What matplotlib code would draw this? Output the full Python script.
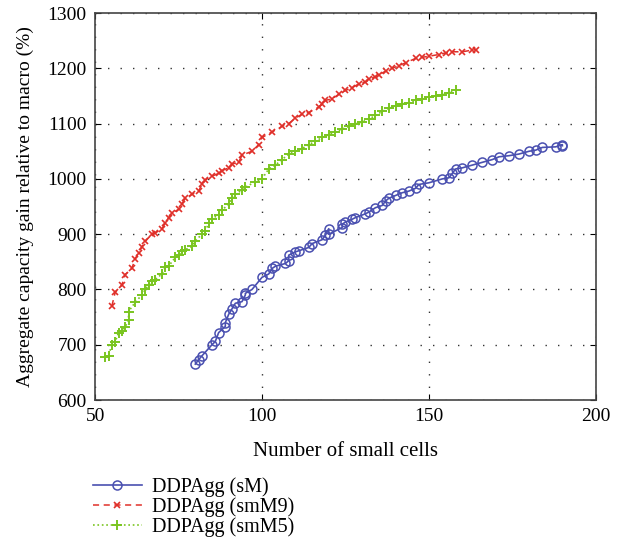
import numpy as np
import matplotlib
matplotlib.use("Agg")
import matplotlib.pyplot as plt

plt.rcParams['font.family'] = ['Liberation Serif', 'DejaVu Serif']

# DDPAgg (sM)
sm_x = [80, 81, 82, 85, 86, 87, 89, 89, 90, 91, 92, 94, 95, 95, 97, 100, 102, 103, 104,
        107, 108, 108, 110, 111, 114, 115, 118, 119, 120, 120, 124, 124, 125, 127, 128,
        131, 132, 134, 136, 137, 138, 140, 142, 144, 146, 147, 150, 154, 156, 157, 158,
        160, 163, 166, 169, 171, 174, 177, 180, 182, 184, 188, 190, 190]
sm_y = [665, 673, 680, 700, 706, 722, 733, 740, 755, 765, 775, 778, 790, 793, 800, 822,
        828, 838, 842, 847, 852, 862, 868, 870, 876, 883, 890, 898, 910, 900, 912, 918,
        922, 927, 930, 937, 940, 948, 952, 960, 965, 970, 975, 978, 983, 990, 993, 1000,
        1002, 1010, 1018, 1020, 1025, 1030, 1035, 1040, 1042, 1045, 1050, 1052, 1057,
        1058, 1062, 1060]

# DDPAgg (smM9)
smm9_x = [55, 56, 58, 59, 61, 62, 63, 64, 65, 67, 68, 70, 71, 72, 73, 75, 76, 77, 79, 81,
          82, 83, 85, 87, 88, 90, 91, 93, 94, 97, 99, 100, 103, 106, 108, 110, 112, 114,
          117, 118, 119, 121, 123, 125, 127, 129, 131, 132, 134, 135, 137, 139, 141, 143,
          146, 148, 150, 153, 155, 157, 160, 163, 164]
smm9_y = [770, 795, 808, 827, 838, 856, 866, 877, 887, 900, 902, 910, 920, 930, 938, 945,
          955, 965, 972, 978, 990, 998, 1005, 1010, 1015, 1020, 1027, 1030, 1043, 1050,
          1062, 1075, 1085, 1095, 1100, 1110, 1117, 1120, 1130, 1135, 1142, 1145, 1153,
          1160, 1165, 1172, 1175, 1180, 1185, 1188, 1195, 1200, 1205, 1210, 1218, 1220,
          1222, 1225, 1228, 1230, 1230, 1233, 1234]

# DDPAgg (smM5)
smm5_x = [53, 54, 55, 56, 57, 58, 59, 60, 60, 62, 64, 65, 66, 67, 68, 70, 71, 72, 74, 75,
          76, 77, 79, 80, 82, 83, 84, 85, 87, 88, 90, 91, 92, 94, 95, 98, 100, 102, 104,
          106, 108, 110, 112, 114, 116, 118, 120, 122, 124, 126, 128, 130, 132, 134, 136,
          138, 140, 142, 144, 146, 148, 150, 152, 154, 156, 158]
smm5_y = [678, 680, 700, 705, 722, 725, 732, 745, 760, 777, 790, 800, 808, 815, 818, 828,
          840, 842, 858, 862, 870, 872, 878, 888, 900, 905, 920, 928, 935, 943, 955, 965,
          972, 980, 985, 995, 1000, 1018, 1025, 1035, 1045, 1050, 1055, 1062, 1068, 1075,
          1080, 1085, 1090, 1095, 1100, 1103, 1108, 1115, 1122, 1128, 1132, 1136, 1138,
          1142, 1145, 1148, 1150, 1152, 1156, 1160]

fig = plt.figure(figsize=(6.18, 5.45), dpi=100)
ax = fig.add_axes([0.154, 0.266, 0.81, 0.71])

ax.plot(sm_x, sm_y, '-', color='#4a50b0', lw=1.2, marker='o', ms=6.5,
        mfc='none', mec='#4a50b0', mew=1.1, label='DDPAgg (sM)')
ax.plot(smm9_x, smm9_y, '--', color='#e0302a', lw=1.1, marker='x', ms=4.5,
        mew=1.2, label='DDPAgg (smM9)', dashes=(4, 3))
ax.plot(smm5_x, smm5_y, ':', color='#7ac520', lw=1.2, marker='+', ms=7,
        mew=1.4, label='DDPAgg (smM5)')

ax.set_xlim(50, 200)
ax.set_ylim(600, 1300)
ax.set_xticks([50, 100, 150, 200])
ax.set_yticks(np.arange(600, 1301, 100))
ax.grid(True, color='#333333', linestyle=(0, (1, 8)), lw=1.0)
ax.tick_params(direction='in', top=True, right=True, labelsize=14, length=4, pad=6)
ax.set_xlabel('Number of small cells', fontsize=15, labelpad=12)
ax.set_ylabel('Aggregate capacity gain relative to macro (%)', fontsize=14, labelpad=10)
for s in ax.spines.values():
    s.set_color('#444444')
    s.set_linewidth(1.2)

ax.legend(loc='upper left', bbox_to_anchor=(-0.02, -0.18), frameon=False,
          fontsize=14.5, handlelength=2.4, labelspacing=0.0, handletextpad=0.5,
          borderaxespad=0)

fig.savefig('out.png', dpi=100)
